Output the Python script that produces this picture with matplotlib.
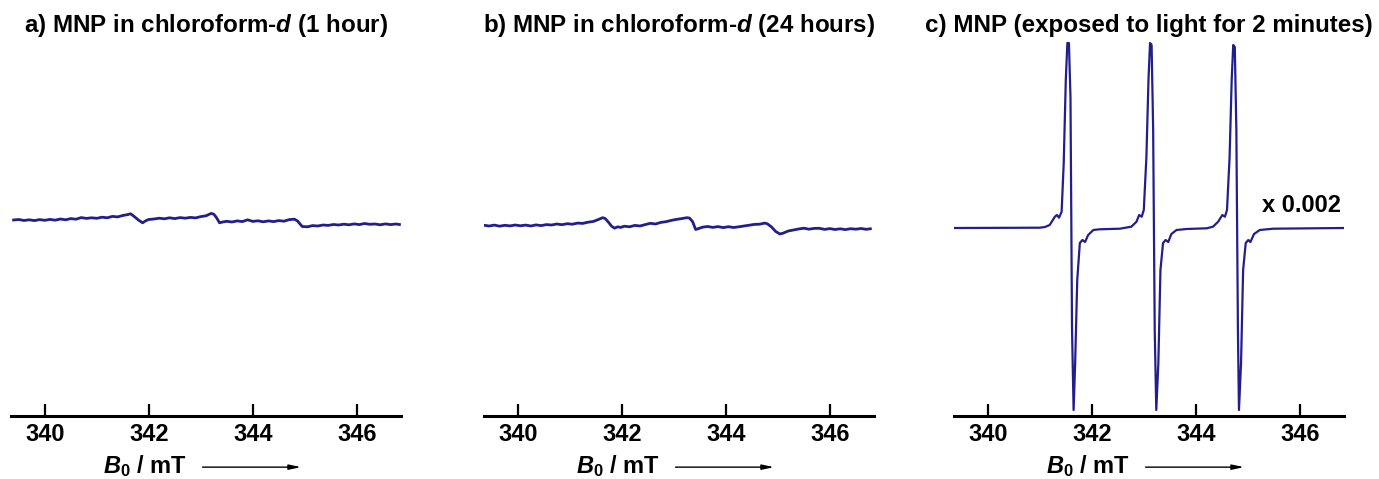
import matplotlib.pyplot as plt
import matplotlib.transforms as mtransforms

plt.rcParams['font.family'] = 'Liberation Sans'
plt.rcParams['font.weight'] = 'bold'
plt.rcParams['mathtext.fontset'] = 'custom'
plt.rcParams['mathtext.it'] = 'Liberation Sans:italic:bold'
plt.rcParams['mathtext.rm'] = 'Liberation Sans:bold'
plt.rcParams['mathtext.bf'] = 'Liberation Sans:bold'

# Data: field (mT) and EPR signal (arbitrary units)
a_field = [339.40, 339.50, 339.60, 339.70, 339.80, 339.90, 340.00, 340.10, 340.20, 340.30,
           340.40, 340.50, 340.60, 340.70, 340.80, 340.90, 341.00, 341.10, 341.20, 341.30,
           341.40, 341.50, 341.60, 341.65, 341.72, 341.80, 341.88, 341.95, 342.00, 342.10,
           342.20, 342.30, 342.40, 342.50, 342.60, 342.70, 342.80, 342.90, 343.00, 343.10,
           343.20, 343.25, 343.30, 343.36, 343.42, 343.50, 343.60, 343.70, 343.80, 343.90,
           344.00, 344.10, 344.20, 344.30, 344.40, 344.50, 344.60, 344.70, 344.80, 344.86,
           344.95, 345.05, 345.15, 345.25, 345.35, 345.45, 345.55, 345.65, 345.75, 345.85,
           345.95, 346.05, 346.15, 346.25, 346.35, 346.45, 346.55, 346.65, 346.75, 346.82]
a_signal = [8.0, 8.5, 7.5, 8.2, 7.4, 8.4, 7.7, 8.6, 7.8, 9.0,
            8.2, 9.4, 8.8, 10.4, 9.6, 10.2, 9.7, 10.8, 10.2, 11.6,
            11.1, 12.5, 13.5, 14.2, 11.5, 8.0, 5.2, 7.5, 8.5, 9.0,
            9.8, 9.2, 10.2, 9.4, 10.4, 9.8, 10.6, 10.1, 11.4, 12.2,
            14.6, 13.8, 10.5, 5.2, 6.0, 6.7, 6.0, 7.1, 6.4, 8.2,
            6.6, 7.2, 6.2, 7.1, 6.4, 7.4, 6.8, 8.4, 8.8, 7.0,
            1.5, 1.2, 2.4, 2.0, 3.0, 2.6, 3.5, 3.0, 3.8, 3.2,
            4.1, 3.4, 4.5, 3.7, 4.0, 3.2, 4.1, 3.4, 4.0, 3.5]

b_field = [339.37, 339.45, 339.55, 339.65, 339.75, 339.85, 339.95, 340.05, 340.15, 340.25,
           340.35, 340.45, 340.55, 340.65, 340.75, 340.85, 340.95, 341.05, 341.15, 341.25,
           341.35, 341.45, 341.55, 341.63, 341.68, 341.74, 341.80, 341.86, 341.92, 341.98,
           342.05, 342.15, 342.25, 342.35, 342.45, 342.55, 342.65, 342.75, 342.85, 342.95,
           343.05, 343.15, 343.25, 343.30, 343.36, 343.42, 343.48, 343.55, 343.65, 343.75,
           343.85, 343.95, 344.05, 344.15, 344.25, 344.35, 344.45, 344.55, 344.65, 344.75,
           344.80, 344.88, 344.96, 345.04, 345.10, 345.20, 345.30, 345.40, 345.50, 345.60,
           345.70, 345.80, 345.90, 346.00, 346.10, 346.20, 346.30, 346.40, 346.50, 346.60,
           346.70, 346.78]
b_signal = [2.6, 2.0, 2.9, 1.8, 2.7, 2.1, 3.0, 2.2, 2.9, 2.0,
            3.1, 2.4, 3.4, 3.0, 4.0, 3.3, 4.3, 3.8, 4.9, 4.6,
            5.8, 6.5, 8.5, 10.3, 9.5, 6.0, 2.0, -0.2, 1.2, 0.6,
            1.8, 1.2, 2.6, 2.0, 3.4, 4.7, 4.0, 5.6, 6.3, 7.6,
            8.6, 9.4, 10.3, 10.0, 6.5, -1.5, -0.5, 0.8, 1.5, 0.6,
            1.4, 0.4, 1.3, 0.5, 1.2, 2.0, 2.8, 3.6, 3.8, 4.9,
            4.2, 1.0, -3.5, -6.0, -5.2, -3.0, -2.0, -1.0, -0.2, -1.2,
            -0.4, -0.3, -1.4, -0.6, -1.5, -0.8, -1.6, -0.7, -1.2, -0.5,
            -1.3, -0.8]

c_field = [339.35, 341.00, 341.10, 341.19, 341.29, 341.33, 341.37, 341.42, 341.46, 341.50,
           341.53, 341.56, 341.59, 341.62, 341.65, 341.68, 341.72, 341.77, 341.82, 341.87,
           341.93, 342.03, 342.15, 342.54,
           342.76, 342.86, 342.91, 342.96, 343.00, 343.05, 343.09, 343.12, 343.15, 343.18,
           343.21, 343.24, 343.28, 343.32, 343.37, 343.42, 343.47, 343.53, 343.63, 343.82,
           344.21,
           344.33, 344.43, 344.51, 344.56, 344.60, 344.65, 344.69, 344.72, 344.75, 344.78,
           344.81, 344.83, 344.87, 344.91, 344.96, 345.01, 345.05, 345.12, 345.23, 345.49,
           346.85]
c_signal = [0, 0.3, 1.0, 3, 11.3, 13, 10.3, 16.3, 65, 148,
            185, 185, 131, -102, -182, -135, -52, -15, -12, -14,
            -7, -2, -1.3, -0.7,
            1.3, 6.3, 13, 11.3, 18, 71, 148, 185, 183, 98,
            -102, -182, -135, -42, -15, -12, -14, -6, -2, -1,
            -0.3,
            1.3, 6.3, 13, 11.3, 18, 71, 148, 183, 181, 98,
            -102, -182, -135, -42, -15, -12, -14, -6, -2, -0.7,
            0]

titles = ['a) MNP in chloroform-$d$ (1 hour)',
          'b) MNP in chloroform-$d$ (24 hours)',
          'c) MNP (exposed to light for 2 minutes)']
ticks = [340, 342, 344, 346]
line_color = '#221E8C'

fig = plt.figure(figsize=(13.79, 4.79), dpi=100)
lefts = [11 / 1379, 484 / 1379, 954 / 1379]
panels = [(a_field, a_signal), (b_field, b_signal), (c_field, c_signal)]

for i, (left, (x, y)) in enumerate(zip(lefts, panels)):
    ax = fig.add_axes([left, 1 - 416 / 479, 390 / 1379, 376 / 479])
    ax.plot(x, y, color=line_color, lw=2.0 if i < 2 else 1.6)
    ax.set_xlim(339.35, 346.85)
    ax.set_ylim(-188, 188)
    ax.set_xticks(ticks)
    ax.set_yticks([])
    for s in ['top', 'left', 'right']:
        ax.spines[s].set_visible(False)
    ax.spines['bottom'].set_linewidth(2.2)
    ax.tick_params(axis='x', direction='in', length=8.6, width=1.6, pad=5,
                   labelsize=17)
    ax.set_title(titles[i], fontsize=17.4, fontweight='bold', pad=6)

    # axis label with arrow
    trans = mtransforms.blended_transform_factory(ax.transData, ax.transAxes)
    ax.text(341.12, -0.152, r'$B_{\mathit{0}}$ / mT', transform=trans,
            fontsize=17, ha='left', va='baseline')
    ax.annotate('', xy=(344.98, -0.136), xytext=(342.98, -0.136),
                xycoords=trans, textcoords=trans,
                arrowprops=dict(arrowstyle='-|>,head_length=0.7,head_width=0.15',
                                lw=1, color='black'))

    if i == 2:
        ax.text(346.79, 22, 'x 0.002', fontsize=17, ha='right', va='center')

fig.savefig('out.png', dpi=100)
